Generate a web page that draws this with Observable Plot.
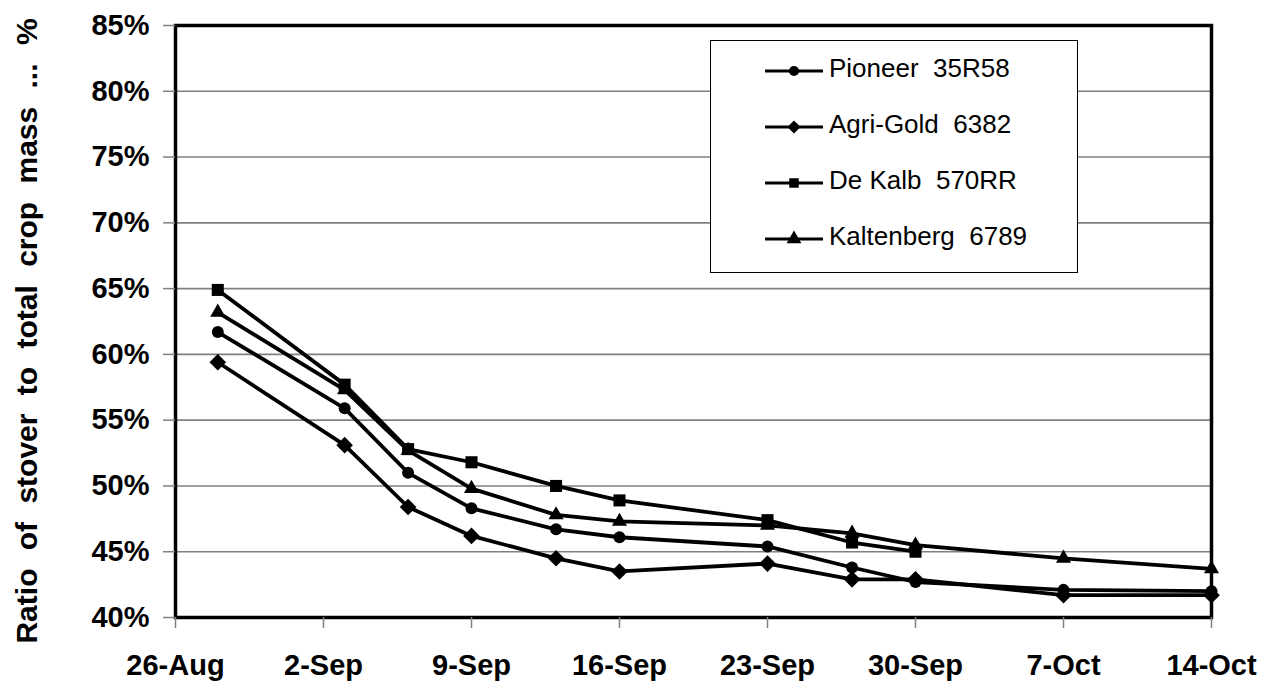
<!DOCTYPE html>
<html>
<head>
<meta charset="utf-8">
<script src="https://cdn.jsdelivr.net/npm/d3@7"></script>
<script src="https://cdn.jsdelivr.net/npm/@observablehq/plot@0.6"></script>
<style>
  body { margin: 0; background: #fff; }
  #chart { position: relative; width: 1264px; height: 684px; font-family: "Liberation Sans", Arial, sans-serif; }
  #chart svg text { word-spacing: 10px; }
  .legend {
    position: absolute; left: 710px; top: 40px; width: 366px; height: 229px;
    border: 1px solid #000; background: #fff; box-sizing: content-box;
    padding-top: 2px; font-size: 26px; color: #000;
  }
  .legend .row { display: flex; align-items: center; height: 56px; }
  .legend .row svg { margin-left: 54px; flex: none; }
  .legend .row span { white-space: pre; margin-left: 6px; position: relative; top: -3px; }
</style>
</head>
<body>
<div id="chart"></div>
<script>
// Sampling dates
const dates = ["2008-08-28", "2008-09-03", "2008-09-06", "2008-09-09", "2008-09-13", "2008-09-16",
               "2008-09-23", "2008-09-27", "2008-09-30", "2008-10-07", "2008-10-14"];

// Stover share of total crop mass, percent, per hybrid
const pioneer    = [61.7, 55.9, 51.0, 48.3, 46.7, 46.1, 45.4, 43.8, 42.7, 42.1, 42.0];
const agriGold   = [59.4, 53.1, 48.4, 46.2, 44.5, 43.5, 44.1, 42.9, 42.9, 41.7, 41.7];
const deKalb     = [64.9, 57.7, 52.8, 51.8, 50.0, 48.9, 47.4, 45.7, 45.0, null, null];
const kaltenberg = [63.2, 57.3, 52.7, 49.8, 47.8, 47.3, 47.0, 46.4, 45.5, 44.5, 43.7];

const seriesNames = ["Pioneer  35R58", "Agri-Gold  6382", "De Kalb  570RR", "Kaltenberg  6789"];

// Axis ticks
const xTicks = ["2008-08-26", "2008-09-02", "2008-09-09", "2008-09-16", "2008-09-23",
                "2008-09-30", "2008-10-07", "2008-10-14"];
const yTicks = [0.40, 0.45, 0.50, 0.55, 0.60, 0.65, 0.70, 0.75, 0.80, 0.85];

const yTitle = "Ratio of stover to total crop mass ... %";

// Marker shape and radius for each hybrid
const styles = [
  {symbol: d3.symbolCircle,   r: 6.0, legendSize: 80},
  {symbol: d3.symbolDiamond2, r: 7.5, legendSize: 110},
  {symbol: d3.symbolSquare,   r: 6.8, legendSize: 90},
  {symbol: d3.symbolTriangle, r: 5.6, legendSize: 95}
];

const valueSets = [pioneer, agriGold, deKalb, kaltenberg];
const rows = seriesNames.flatMap((name, k) =>
  dates.map((d, i) => ({date: new Date(d), v: valueSets[k][i], name}))
       .filter(d => d.v != null)
       .map(d => ({date: d.date, value: d.v / 100, name: d.name}))
);

const marks = [
  Plot.gridY(yTicks.slice(1, -1), {stroke: "#808080", strokeOpacity: 1, strokeWidth: 1.6}),
  Plot.frame({stroke: "#000", strokeWidth: 3.5}),
  Plot.axisY(yTicks, {
    tickSize: 12, tickPadding: 14, stroke: "#808080", strokeWidth: 1.5,
    fontSize: 29, fontWeight: "bold", tickFormat: d3.format(".0%"), label: null
  }),
  Plot.axisX(xTicks.map(d => new Date(d)), {
    tickSize: 11, tickPadding: 26, stroke: "#808080", strokeWidth: 1.5,
    fontSize: 29, fontWeight: "bold", tickFormat: d3.utcFormat("%-d-%b"), label: null
  }),
  Plot.text([yTitle], {
    frameAnchor: "left", textAnchor: "middle", rotate: -90, dx: -148, dy: 9.5,
    fontSize: 30, fontWeight: "bold", fill: "#000"
  }),
  Plot.lineY(rows, {x: "date", y: "value", z: "name", stroke: "#000", strokeWidth: 3.8})
];

seriesNames.forEach((name, k) => {
  marks.push(Plot.dot(rows.filter(d => d.name === name), {
    x: "date", y: "value", symbol: styles[k].symbol, r: styles[k].r, fill: "#000"
  }));
});

const chart = Plot.plot({
  width: 1264,
  height: 684,
  marginLeft: 175,
  marginRight: 53,
  marginTop: 25,
  marginBottom: 67,
  style: {fontFamily: "'Liberation Sans', Arial, sans-serif", color: "#000", background: "#fff"},
  x: {type: "utc", domain: [new Date(xTicks[0]), new Date(xTicks[xTicks.length - 1])]},
  y: {domain: [yTicks[0], yTicks[yTicks.length - 1]]},
  marks
});

const root = document.getElementById("chart");
root.appendChild(chart);

// Legend box with line-and-marker swatches
const legend = d3.select(root).append("div").attr("class", "legend");
seriesNames.forEach((name, k) => {
  const row = legend.append("div").attr("class", "row");
  const sw = row.append("svg").attr("width", 58).attr("height", 20);
  sw.append("line").attr("x1", 0).attr("x2", 58).attr("y1", 10).attr("y2", 10)
    .attr("stroke", "#000").attr("stroke-width", 3);
  sw.append("path").attr("transform", "translate(29,10)")
    .attr("d", d3.symbol(styles[k].symbol, styles[k].legendSize)()).attr("fill", "#000");
  row.append("span").text(name);
});
</script>
</body>
</html>
